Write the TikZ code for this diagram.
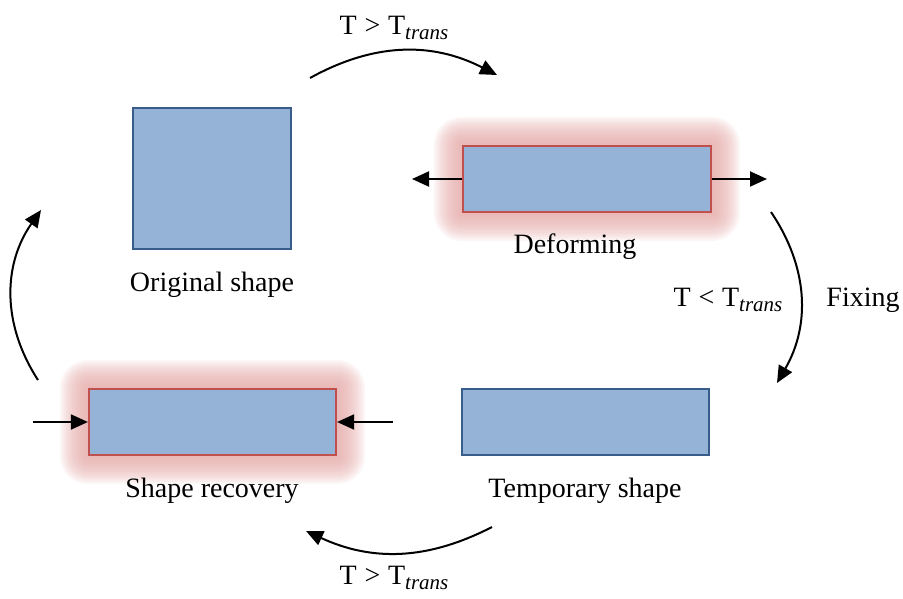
\documentclass[tikz,border=0pt]{standalone}
\usepackage{fontspec}
\setmainfont{Liberation Serif}
\usetikzlibrary{arrows.meta, calc, backgrounds}
\definecolor{box-blue}{HTML}{95B3D7}
\definecolor{edge-blue}{HTML}{385D8A}
\definecolor{edge-red}{HTML}{C0504D}
\definecolor{glow-red}{HTML}{E3A6A4}
\newcommand{\Ttrans}[1]{T\;#1\;T\raisebox{-0.45ex}{\fontsize{21}{21}\selectfont\itshape trans}}

\begin{document}
\begin{tikzpicture}[x=1pt, y=1pt,
        every node/.style={font=\fontsize{28}{32}\selectfont},
        bluebox/.style={draw=edge-blue, fill=box-blue, line width=2.2pt, inner sep=0pt},
        hotbox/.style={draw=edge-red, fill=box-blue, line width=2.2pt, inner sep=0pt},
        cycle arrow/.style={line width=2pt, -{Triangle[length=17pt, width=15pt]}},
        push arrow/.style={line width=2pt, -{Triangle[length=17pt, width=15pt]}}]
      \useasboundingbox (0,0) rectangle (903,-598);
      % shapes
      \node[bluebox, minimum width=158, minimum height=141] (orig) at (212,-178.5) {};
      \node[hotbox, minimum width=248, minimum height=66] (def) at (587,-179) {};
      \node[bluebox, minimum width=247, minimum height=66] (temp) at (585.5,-422) {};
      \node[hotbox, minimum width=247, minimum height=66] (rec) at (212.5,-422) {};
      % glow round the hot boxes
      \begin{scope}[on background layer]
        \foreach \b in {def, rec}
          \foreach \r in {2,4,...,28}
            \fill[glow-red, opacity=0.1, rounded corners=\r]
              ($(\b.south west)+(-\r,-\r)$) rectangle ($(\b.north east)+(\r,\r)$);
      \end{scope}
      % captions
      \node (orig-lbl) at (212,-285) {Original shape};
      \node (def-lbl) at (575,-247) {Deforming};
      \node (temp-lbl) at (585,-491) {Temporary shape};
      \node (rec-lbl) at (212,-491) {Shape recovery};
      % force arrows
      \coordinate (def-l) at (412,-179);
      \coordinate (def-r) at (767,-179);
      \coordinate (rec-l) at (33,-422);
      \coordinate (rec-r) at (393,-422);
      \draw[push arrow] (def.west) -- (def-l);
      \draw[push arrow] (def.east) -- (def-r);
      \draw[push arrow] (rec-l) -- (rec.west);
      \draw[push arrow] (rec-r) -- (rec.east);
      % cycle
      \coordinate (top-a) at (310,-78);
      \coordinate (top-b) at (497,-75);
      \coordinate (right-a) at (771,-212);
      \coordinate (right-b) at (777,-383);
      \coordinate (bot-a) at (492,-527);
      \coordinate (bot-b) at (306,-531);
      \coordinate (left-a) at (38,-380);
      \coordinate (left-b) at (41,-210);
      \draw[cycle arrow] (top-a) to[bend left=28] (top-b);
      \draw[cycle arrow] (right-a) to[bend left=32] (right-b);
      \draw[cycle arrow] (bot-a) to[bend left=26] (bot-b);
      \draw[cycle arrow] (left-a) to[bend left=34] (left-b);
      % conditions
      \node (heat-up) at (394,-28) {\Ttrans{>}};
      \node (cool-down) at (728,-300) {\Ttrans{<}};
      \node (fix-lbl) at (863,-300) {Fixing};
      \node (heat-down) at (394,-578) {\Ttrans{>}};
    \end{tikzpicture}
\end{document}
